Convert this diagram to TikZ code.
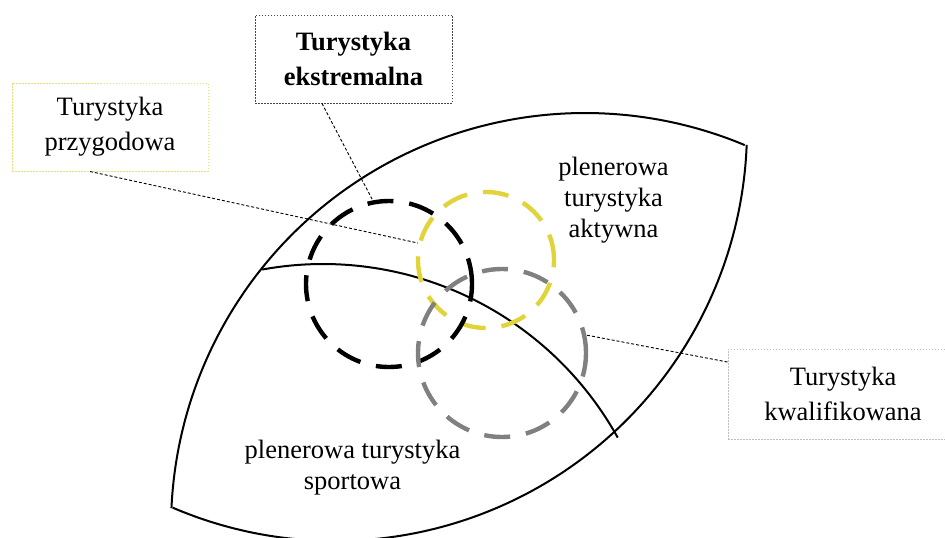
\documentclass[tikz,border=0pt]{standalone}
\usepackage{fontspec}
\setmainfont{Liberation Serif}
\definecolor{ylw}{RGB}{224,212,58}
\definecolor{gry}{RGB}{128,128,128}
\definecolor{ekborder}{RGB}{70,70,70}
\definecolor{pzborder}{RGB}{232,224,120}
\definecolor{kwborder}{RGB}{190,190,190}
\begin{document}
\begin{tikzpicture}[x=1pt,y=-1pt,
  box/.style={rectangle, inner sep=0pt, align=center, line width=1pt,
    dash pattern=on 1.5pt off 1.5pt,
    font=\fontsize{26.5pt}{35pt}\selectfont},
  txt/.style={inner sep=0pt, align=center,
    font=\fontsize{26.5pt}{31pt}\selectfont},
  ring/.style={circle, inner sep=0pt, line width=4.4pt, dash pattern=on 26pt off 16pt},
  arcline/.style={line width=2pt, black},
  leader/.style={line width=0.9pt, black, dash pattern=on 3pt off 2pt}]
\useasboundingbox (0,0) rectangle (945,538);
% outer lens shape and dividing arc
\draw[arcline] plot[smooth, samples=80, domain=-177.4:-67.3, variable=\t] ({585+414*cos(\t)}, {527+414*sin(\t)});
\draw[arcline] plot[smooth, samples=80, domain=113.2:2.2, variable=\t] ({335+412*cos(\t)}, {129+412*sin(\t)});
\draw[arcline] plot[smooth, samples=80, domain=-100.4:-29.0, variable=\t] ({323+337*cos(\t)}, {601+337*sin(\t)});
% dashed circles
\node[ring, draw=ylw, minimum size=136pt] (yl) at (486,260) {};
\node[ring, draw=black, minimum size=166pt] (bk) at (389,284) {};
\node[ring, draw=gry, minimum size=168pt] (gr) at (502,353) {};
% region labels
\node[txt] (akt) at (613.5,200.4) {plenerowa\\turystyka\\aktywna};
\node[txt] (spo) at (352.5,467.4) {plenerowa turystyka\\sportowa};
% boxes
\node[box, draw=ekborder, minimum width=197pt, minimum height=88pt, font=\fontsize{26.5pt}{35pt}\selectfont\bfseries] (ek) at (353.5,59) {Turystyka\\ekstremalna};
\node[box, draw=pzborder, minimum width=196pt, minimum height=88pt] (pz) at (110,127) {\raisebox{2pt}{Turystyka}\\\raisebox{2pt}{przygodowa}};
\node[box, draw=kwborder, minimum width=230pt, minimum height=90pt] (kw) at (843,394) {Turystyka\\kwalifikowana};
% leaders
\draw[leader] ([xshift=-31.5pt]ek.south) -- (bk.101);
\draw[leader] ([xshift=-20pt]pz.south) -- (yl.166);
\draw[leader] ([yshift=32pt]kw.west) -- (gr.12);
\end{tikzpicture}
\end{document}
